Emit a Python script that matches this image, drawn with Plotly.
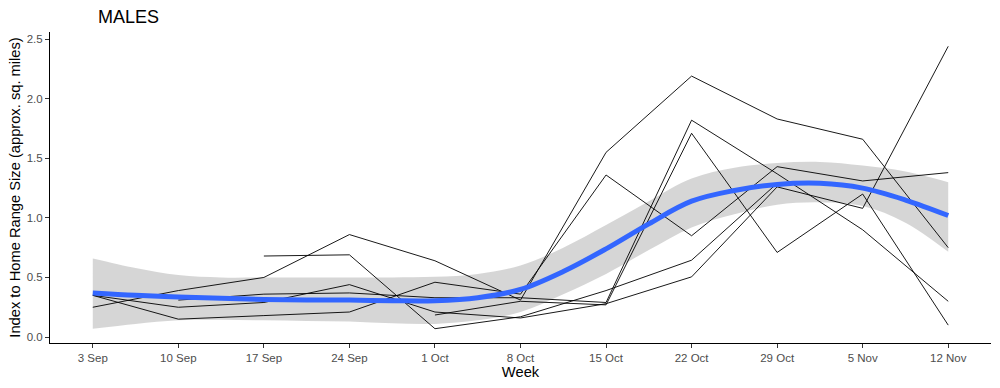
import plotly.graph_objects as go

weeks = ["3 Sep", "10 Sep", "17 Sep", "24 Sep", "1 Oct", "8 Oct",
         "15 Oct", "22 Oct", "29 Oct", "5 Nov", "12 Nov"]

male_1 = [0.25, 0.39, 0.50, 0.86, 0.64, 0.31, 1.55, 2.19, 1.83, 1.66, 0.75]
male_2 = [0.35, 0.15, 0.18, 0.21, 0.46, 0.36, 1.36, 0.85, 1.43, 1.31, 1.38]
male_3 = [0.35, 0.25, 0.29, 0.44, 0.21, 0.16, 0.28, 0.505, 1.26, 1.08, 2.44]
male_4 = [None, 0.31, 0.36, 0.37, 0.33, 0.33, 0.29, 1.82, 1.37, 0.90, 0.30]
male_5 = [None, None, 0.68, 0.69, 0.07, 0.17, 0.39, 0.645, 1.29, None, None]
male_6 = [None, None, None, None, 0.185, 0.30, 0.27, 1.71, 0.71, 1.20, 0.10]
series = [male_1, male_2, male_3, male_4, male_5, male_6]

# loess smooth (read at half-week steps)
smooth_pos = [0, 0.5, 1, 1.5, 2, 2.5, 3, 3.5, 4, 4.5, 5, 5.5, 6, 6.5, 7, 7.5, 8, 8.5, 9, 9.5, 10]
smooth_fit = [0.37, 0.35, 0.335, 0.325, 0.315, 0.31, 0.31, 0.305, 0.305, 0.33, 0.40,
              0.55, 0.74, 0.95, 1.14, 1.23, 1.28, 1.29, 1.25, 1.15, 1.02]
smooth_hi = [0.66, 0.58, 0.52, 0.50, 0.50, 0.50, 0.50, 0.50, 0.505, 0.53, 0.60,
             0.75, 0.94, 1.14, 1.33, 1.42, 1.46, 1.47, 1.44, 1.39, 1.30]
smooth_lo = [0.07, 0.11, 0.14, 0.145, 0.14, 0.135, 0.13, 0.115, 0.11, 0.14, 0.21,
             0.36, 0.53, 0.73, 0.92, 1.03, 1.11, 1.13, 1.10, 0.96, 0.715]

yticks = [0.0, 0.5, 1.0, 1.5, 2.0, 2.5]

x_idx = list(range(len(weeks)))
fig = go.Figure()

fig.add_trace(go.Scatter(x=smooth_pos, y=smooth_hi, mode="lines", line=dict(width=0, shape="spline"),
                         hoverinfo="skip", showlegend=False))
fig.add_trace(go.Scatter(x=smooth_pos, y=smooth_lo, mode="lines", line=dict(width=0, shape="spline"),
                         fill="tonexty", fillcolor="rgba(153,153,153,0.4)",
                         hoverinfo="skip", showlegend=False))

for s in series:
    fig.add_trace(go.Scatter(x=x_idx, y=s, mode="lines",
                             line=dict(color="rgba(0,0,0,0.9)", width=1),
                             connectgaps=False, showlegend=False))

fig.add_trace(go.Scatter(x=smooth_pos, y=smooth_fit, mode="lines",
                         line=dict(color="#3366FF", width=5, shape="spline"),
                         showlegend=False))

font_family = "Liberation Sans, Arial, sans-serif"
fig.update_layout(
    width=1000, height=388,
    margin=dict(l=50, r=9, t=32, b=45),
    paper_bgcolor="white", plot_bgcolor="white",
    font=dict(family=font_family),
    title=dict(text="MALES", x=0.098, xref="container", xanchor="left",
               y=1 - 17 / 388, yanchor="middle", pad=dict(l=0, r=0, t=0, b=0),
               font=dict(size=18, color="black", family=font_family)),
    xaxis=dict(range=[-0.5, 10.5], tickmode="array", tickvals=x_idx, ticktext=weeks,
               automargin=False,
               showgrid=False, zeroline=False, showline=True, linecolor="black", linewidth=1,
               ticks="outside", ticklen=4, tickcolor="#333333",
               tickfont=dict(size=11.5, color="#4D4D4D"),
               title=dict(text="Week", font=dict(size=14.7, color="black"), standoff=2)),
    yaxis=dict(range=[-0.05, 2.56], tickmode="array", tickvals=yticks,
               ticktext=[f"{v:.1f}" for v in yticks],
               automargin=False,
               showgrid=False, zeroline=False, showline=True, linecolor="black", linewidth=1,
               ticks="outside", ticklen=4, tickcolor="#333333",
               tickfont=dict(size=11.5, color="#4D4D4D"),
               title=dict(text="Index to Home Range Size (approx. sq. miles)",
                          font=dict(size=14.7, color="black"), standoff=2)),
)

fig.write_html("out.html", config={"displayModeBar": False},
               post_script="document.body.style.margin='0';document.body.style.overflow='hidden';")
